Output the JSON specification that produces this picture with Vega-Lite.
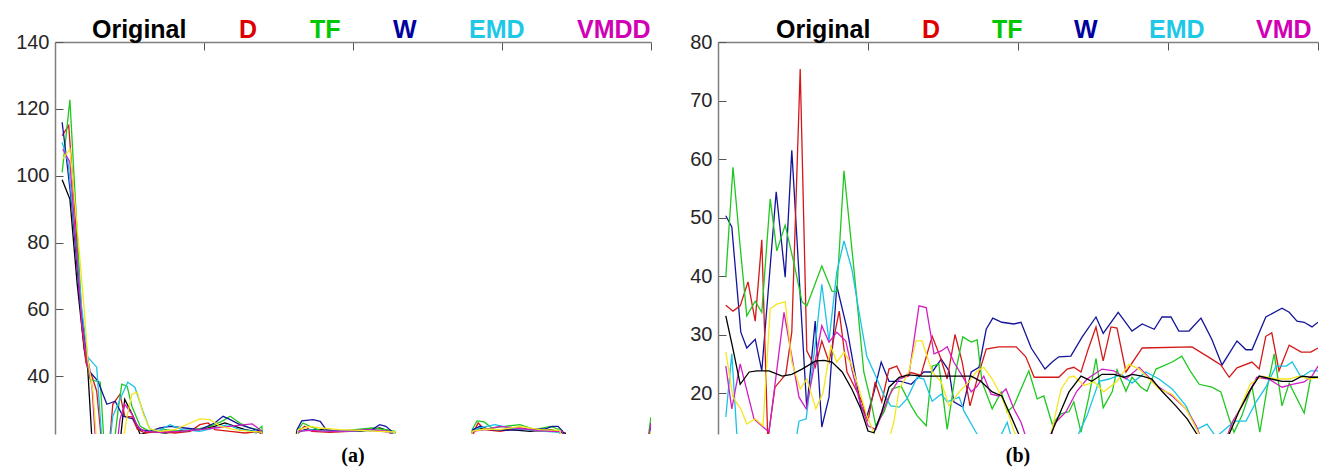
{
"$schema": "https://vega.github.io/schema/vega-lite/v6.json",
"background": "white",
"padding": {"left": 15, "top": 17, "right": 5, "bottom": 5},
"config": {"view": {"stroke": null}, "font": "Liberation Sans", "concat": {"spacing": 37}},
"datasets": {
"a": [
{"s":"Original","x":1.2,"v":98.8},{"s":"Original","x":2.5,"v":93},{"s":"Original","x":3.7,"v":68},{"s":"Original","x":4.9,"v":48},{"s":"Original","x":5.5,"v":42},{"s":"Original","x":6.4,"v":15},{"s":"Original","x":10.6,"v":15},{"s":"Original","x":11.7,"v":33.1},{"s":"Original","x":13.1,"v":28},{"s":"Original","x":14.3,"v":22.5},{"s":"Original","x":15.9,"v":23.5},{"s":"Original","x":18.5,"v":23},{"s":"Original","x":21,"v":23.6},{"s":"Original","x":24.3,"v":24},{"s":"Original","x":26.8,"v":25},{"s":"Original","x":28.5,"v":26},{"s":"Original","x":30.2,"v":25},{"s":"Original","x":31.9,"v":24},{"s":"Original","x":33.6,"v":23.5},{"s":"Original","x":34.7,"v":23},{"s":"Original","x":35.7,"v":15},{"s":"Original","x":39.4,"v":15},{"s":"Original","x":40.6,"v":23},{"s":"Original","x":41.9,"v":24},{"s":"Original","x":44.5,"v":24},{"s":"Original","x":47.8,"v":23.5},{"s":"Original","x":51.2,"v":23.5},{"s":"Original","x":54.5,"v":24.5},{"s":"Original","x":57,"v":23},{"s":"Original","x":57.9,"v":15},{"s":"Original","x":68.8,"v":15},{"s":"Original","x":70,"v":23},{"s":"Original","x":71.3,"v":24.5},{"s":"Original","x":73.8,"v":24},{"s":"Original","x":76.3,"v":24},{"s":"Original","x":79.7,"v":23.5},{"s":"Original","x":83.1,"v":24},{"s":"Original","x":85.6,"v":23},{"s":"Original","x":86.4,"v":15},{"s":"Original","x":99,"v":15},{"s":"Original","x":100,"v":26},
{"s":"D","x":1.2,"v":112},{"s":"D","x":2.3,"v":115},{"s":"D","x":3.4,"v":88},{"s":"D","x":4.5,"v":55},{"s":"D","x":5.2,"v":44},{"s":"D","x":6.2,"v":40},{"s":"D","x":7,"v":35.5},{"s":"D","x":8.1,"v":15},{"s":"D","x":8.9,"v":15},{"s":"D","x":9.7,"v":31.6},{"s":"D","x":10.9,"v":34.6},{"s":"D","x":11.7,"v":28},{"s":"D","x":12.9,"v":27.8},{"s":"D","x":13.8,"v":24.2},{"s":"D","x":15.1,"v":23},{"s":"D","x":17.6,"v":23.5},{"s":"D","x":20.1,"v":23},{"s":"D","x":22.7,"v":23.5},{"s":"D","x":24.3,"v":25.5},{"s":"D","x":25.7,"v":26},{"s":"D","x":26.8,"v":24},{"s":"D","x":29.4,"v":23.5},{"s":"D","x":31.9,"v":23},{"s":"D","x":34.4,"v":23.5},{"s":"D","x":35.4,"v":15},{"s":"D","x":39.9,"v":15},{"s":"D","x":40.8,"v":23.5},{"s":"D","x":41.9,"v":25},{"s":"D","x":43.1,"v":23.5},{"s":"D","x":46.1,"v":23.2},{"s":"D","x":49.5,"v":23.5},{"s":"D","x":52.9,"v":23.8},{"s":"D","x":56.2,"v":23.3},{"s":"D","x":57.2,"v":15},{"s":"D","x":69.3,"v":15},{"s":"D","x":70.3,"v":23.5},{"s":"D","x":71,"v":26},{"s":"D","x":72.1,"v":24},{"s":"D","x":74.7,"v":23.5},{"s":"D","x":78,"v":24.5},{"s":"D","x":81.4,"v":23.5},{"s":"D","x":84.7,"v":23.5},{"s":"D","x":85.7,"v":15},{"s":"D","x":99,"v":15},{"s":"D","x":100,"v":25},
{"s":"TF","x":1.2,"v":101},{"s":"TF","x":2.5,"v":122.7},{"s":"TF","x":3.5,"v":90},{"s":"TF","x":4.5,"v":58},{"s":"TF","x":5.2,"v":47},{"s":"TF","x":5.9,"v":39},{"s":"TF","x":7.6,"v":38.2},{"s":"TF","x":8.4,"v":15},{"s":"TF","x":9.6,"v":15},{"s":"TF","x":10.6,"v":30},{"s":"TF","x":11.2,"v":37.6},{"s":"TF","x":12.1,"v":37},{"s":"TF","x":12.9,"v":31},{"s":"TF","x":14.3,"v":25},{"s":"TF","x":15.9,"v":23.5},{"s":"TF","x":18.5,"v":24},{"s":"TF","x":21,"v":23.5},{"s":"TF","x":23.5,"v":24},{"s":"TF","x":26,"v":25},{"s":"TF","x":28,"v":26.5},{"s":"TF","x":29.4,"v":28},{"s":"TF","x":31,"v":26},{"s":"TF","x":32.7,"v":24.5},{"s":"TF","x":34.1,"v":24},{"s":"TF","x":34.7,"v":25},{"s":"TF","x":35.2,"v":15},{"s":"TF","x":39.9,"v":15},{"s":"TF","x":40.8,"v":24},{"s":"TF","x":41.6,"v":26},{"s":"TF","x":42.8,"v":25},{"s":"TF","x":44.5,"v":23.8},{"s":"TF","x":47,"v":23.5},{"s":"TF","x":50.3,"v":24},{"s":"TF","x":53.2,"v":24.5},{"s":"TF","x":55.4,"v":24},{"s":"TF","x":57,"v":23.5},{"s":"TF","x":57.9,"v":15},{"s":"TF","x":69.3,"v":15},{"s":"TF","x":70,"v":24},{"s":"TF","x":70.8,"v":26.6},{"s":"TF","x":72,"v":26.3},{"s":"TF","x":73.3,"v":24.5},{"s":"TF","x":75.5,"v":25},{"s":"TF","x":78,"v":25.5},{"s":"TF","x":80.5,"v":24},{"s":"TF","x":83.1,"v":25},{"s":"TF","x":84.7,"v":24},{"s":"TF","x":85.7,"v":15},{"s":"TF","x":99,"v":15},{"s":"TF","x":100,"v":27.8},
{"s":"W","x":1.2,"v":116},{"s":"W","x":1.8,"v":107},{"s":"W","x":2.9,"v":90},{"s":"W","x":4.2,"v":62},{"s":"W","x":5.2,"v":48},{"s":"W","x":5.9,"v":41.2},{"s":"W","x":7.2,"v":38.5},{"s":"W","x":8.7,"v":31.6},{"s":"W","x":10.1,"v":32.5},{"s":"W","x":11.4,"v":28},{"s":"W","x":13.1,"v":27.2},{"s":"W","x":14.3,"v":24},{"s":"W","x":15.9,"v":23.5},{"s":"W","x":17.6,"v":24.5},{"s":"W","x":19.3,"v":25},{"s":"W","x":21.8,"v":24.5},{"s":"W","x":24.3,"v":24},{"s":"W","x":26.8,"v":26},{"s":"W","x":28.2,"v":28},{"s":"W","x":29.4,"v":27},{"s":"W","x":31,"v":25.5},{"s":"W","x":33.6,"v":24},{"s":"W","x":34.7,"v":23.5},{"s":"W","x":35.4,"v":15},{"s":"W","x":39.9,"v":15},{"s":"W","x":40.6,"v":24},{"s":"W","x":41.4,"v":26.6},{"s":"W","x":43.3,"v":27},{"s":"W","x":44.5,"v":26.5},{"s":"W","x":45.5,"v":24},{"s":"W","x":47.8,"v":23.5},{"s":"W","x":51.2,"v":23.8},{"s":"W","x":53.2,"v":24},{"s":"W","x":54.5,"v":25.5},{"s":"W","x":55.5,"v":25},{"s":"W","x":56.5,"v":23.5},{"s":"W","x":57.2,"v":15},{"s":"W","x":69.3,"v":15},{"s":"W","x":70.1,"v":24},{"s":"W","x":71.3,"v":25},{"s":"W","x":73,"v":24},{"s":"W","x":75.5,"v":23.8},{"s":"W","x":78.9,"v":24},{"s":"W","x":82.2,"v":24.2},{"s":"W","x":83.4,"v":25},{"s":"W","x":84.4,"v":25},{"s":"W","x":85.2,"v":23.5},{"s":"W","x":85.7,"v":15},{"s":"W","x":99,"v":15},{"s":"W","x":100,"v":25},
{"s":"EMD","x":1.2,"v":110},{"s":"EMD","x":2.2,"v":104},{"s":"EMD","x":3.4,"v":82},{"s":"EMD","x":4.5,"v":60},{"s":"EMD","x":5.5,"v":45.7},{"s":"EMD","x":7,"v":42.7},{"s":"EMD","x":8.1,"v":15},{"s":"EMD","x":8.9,"v":15},{"s":"EMD","x":9.7,"v":28},{"s":"EMD","x":10.9,"v":33},{"s":"EMD","x":12.2,"v":38.2},{"s":"EMD","x":13.4,"v":36.7},{"s":"EMD","x":14.8,"v":29.2},{"s":"EMD","x":15.9,"v":24.2},{"s":"EMD","x":17.3,"v":23.5},{"s":"EMD","x":19.3,"v":25.5},{"s":"EMD","x":21.3,"v":24},{"s":"EMD","x":24.3,"v":23.5},{"s":"EMD","x":26.8,"v":24.5},{"s":"EMD","x":29,"v":25.5},{"s":"EMD","x":31,"v":24},{"s":"EMD","x":33.6,"v":23.5},{"s":"EMD","x":35.1,"v":15},{"s":"EMD","x":39.9,"v":15},{"s":"EMD","x":40.8,"v":23.5},{"s":"EMD","x":42.8,"v":24},{"s":"EMD","x":46.1,"v":23.5},{"s":"EMD","x":49.5,"v":23.6},{"s":"EMD","x":53.7,"v":23.8},{"s":"EMD","x":57,"v":23.2},{"s":"EMD","x":57.6,"v":15},{"s":"EMD","x":69.3,"v":15},{"s":"EMD","x":70.1,"v":23.5},{"s":"EMD","x":71.3,"v":24.5},{"s":"EMD","x":73.8,"v":25.5},{"s":"EMD","x":76.3,"v":24.5},{"s":"EMD","x":78.9,"v":24},{"s":"EMD","x":82.2,"v":23.5},{"s":"EMD","x":84.7,"v":23.2},{"s":"EMD","x":85.7,"v":15},{"s":"EMD","x":99,"v":15},{"s":"EMD","x":100,"v":24},
{"s":"VMDD","x":1.3,"v":108},{"s":"VMDD","x":2.5,"v":104},{"s":"VMDD","x":3.5,"v":80},{"s":"VMDD","x":4.5,"v":56},{"s":"VMDD","x":5.4,"v":44},{"s":"VMDD","x":6.2,"v":37},{"s":"VMDD","x":7,"v":15},{"s":"VMDD","x":10.1,"v":15},{"s":"VMDD","x":10.9,"v":27},{"s":"VMDD","x":11.7,"v":31.6},{"s":"VMDD","x":12.9,"v":28.7},{"s":"VMDD","x":13.9,"v":24.8},{"s":"VMDD","x":15.1,"v":23.5},{"s":"VMDD","x":17.6,"v":23.2},{"s":"VMDD","x":21,"v":23.5},{"s":"VMDD","x":24.3,"v":24},{"s":"VMDD","x":26.8,"v":24.5},{"s":"VMDD","x":29.4,"v":25},{"s":"VMDD","x":31.9,"v":25.5},{"s":"VMDD","x":33.1,"v":25.7},{"s":"VMDD","x":34.4,"v":24},{"s":"VMDD","x":35.2,"v":15},{"s":"VMDD","x":39.9,"v":15},{"s":"VMDD","x":40.8,"v":23.5},{"s":"VMDD","x":42.8,"v":23.8},{"s":"VMDD","x":46.1,"v":23.5},{"s":"VMDD","x":49.5,"v":23.6},{"s":"VMDD","x":52.9,"v":24},{"s":"VMDD","x":56.2,"v":23.5},{"s":"VMDD","x":57.2,"v":15},{"s":"VMDD","x":69.3,"v":15},{"s":"VMDD","x":70.1,"v":23.5},{"s":"VMDD","x":72.1,"v":24},{"s":"VMDD","x":74.7,"v":25},{"s":"VMDD","x":77.2,"v":24.5},{"s":"VMDD","x":79.7,"v":24},{"s":"VMDD","x":83.1,"v":23.5},{"s":"VMDD","x":85.1,"v":23.4},{"s":"VMDD","x":85.7,"v":15},{"s":"VMDD","x":99,"v":15},{"s":"VMDD","x":100,"v":26},
{"s":"Y","x":1.3,"v":105},{"s":"Y","x":2.5,"v":108},{"s":"Y","x":3.7,"v":85},{"s":"Y","x":4.9,"v":60},{"s":"Y","x":5.5,"v":45},{"s":"Y","x":6.4,"v":35},{"s":"Y","x":7.2,"v":15},{"s":"Y","x":10.9,"v":15},{"s":"Y","x":12.1,"v":28},{"s":"Y","x":12.9,"v":34.6},{"s":"Y","x":13.8,"v":35.2},{"s":"Y","x":14.8,"v":28.7},{"s":"Y","x":15.9,"v":24.2},{"s":"Y","x":17.6,"v":23.5},{"s":"Y","x":20.1,"v":24},{"s":"Y","x":22.7,"v":26},{"s":"Y","x":24.3,"v":27.2},{"s":"Y","x":26,"v":27},{"s":"Y","x":27.7,"v":25},{"s":"Y","x":30.2,"v":24},{"s":"Y","x":32.7,"v":23.5},{"s":"Y","x":34.7,"v":23.3},{"s":"Y","x":35.4,"v":15},{"s":"Y","x":39.9,"v":15},{"s":"Y","x":40.8,"v":24},{"s":"Y","x":42.8,"v":25},{"s":"Y","x":44.5,"v":24.5},{"s":"Y","x":47.8,"v":24},{"s":"Y","x":51.2,"v":23.8},{"s":"Y","x":54.5,"v":23.5},{"s":"Y","x":57,"v":23.3},{"s":"Y","x":57.6,"v":15},{"s":"Y","x":69.3,"v":15},{"s":"Y","x":70,"v":23.5},{"s":"Y","x":72.1,"v":24.2},{"s":"Y","x":74.7,"v":24},{"s":"Y","x":78,"v":25},{"s":"Y","x":81.4,"v":24},{"s":"Y","x":84.7,"v":23.8},{"s":"Y","x":85.7,"v":15},{"s":"Y","x":99,"v":15},{"s":"Y","x":100,"v":23.5}
],
"b": [
{"s":"W","x":1.3,"v":50.3},{"s":"W","x":2.3,"v":48.4},{"s":"W","x":3.8,"v":30.4},{"s":"W","x":4.8,"v":27.7},{"s":"W","x":6.2,"v":29.2},{"s":"W","x":7.3,"v":23.8},{"s":"W","x":9.7,"v":54.4},{"s":"W","x":11.2,"v":39.8},{"s":"W","x":12.3,"v":61.5},{"s":"W","x":14.8,"v":17.3},{"s":"W","x":16.2,"v":32.3},{"s":"W","x":17.3,"v":14.2},{"s":"W","x":18.5,"v":19.3},{"s":"W","x":19.8,"v":38.3},{"s":"W","x":21.5,"v":31},{"s":"W","x":23.8,"v":17.8},{"s":"W","x":24.8,"v":15.9},{"s":"W","x":26,"v":20.2},{"s":"W","x":27.2,"v":25.3},{"s":"W","x":28.5,"v":22},{"s":"W","x":30.5,"v":22},{"s":"W","x":32.2,"v":21.5},{"s":"W","x":34.3,"v":23.6},{"s":"W","x":35.7,"v":23.6},{"s":"W","x":37.2,"v":25.8},{"s":"W","x":38.5,"v":23.8},{"s":"W","x":39.3,"v":18.5},{"s":"W","x":40.8,"v":17.6},{"s":"W","x":42.2,"v":23.6},{"s":"W","x":43.5,"v":24.4},{"s":"W","x":44.7,"v":30.9},{"s":"W","x":45.8,"v":32.8},{"s":"W","x":47.3,"v":32.1},{"s":"W","x":49.3,"v":31.8},{"s":"W","x":50.5,"v":32.1},{"s":"W","x":52.2,"v":27.7},{"s":"W","x":54.5,"v":24.1},{"s":"W","x":55.7,"v":25.3},{"s":"W","x":56.8,"v":26.2},{"s":"W","x":58.8,"v":26.3},{"s":"W","x":60.7,"v":29.6},{"s":"W","x":63,"v":33},{"s":"W","x":64.2,"v":30.2},{"s":"W","x":66.7,"v":33.8},{"s":"W","x":69,"v":30.6},{"s":"W","x":70.7,"v":31.8},{"s":"W","x":72.7,"v":30.9},{"s":"W","x":74,"v":33},{"s":"W","x":75.5,"v":33},{"s":"W","x":76.8,"v":30.6},{"s":"W","x":78.5,"v":30.6},{"s":"W","x":80.5,"v":32.8},{"s":"W","x":82.3,"v":29.2},{"s":"W","x":84,"v":24.8},{"s":"W","x":86.5,"v":28.9},{"s":"W","x":88,"v":27.4},{"s":"W","x":89,"v":27.4},{"s":"W","x":91.3,"v":33},{"s":"W","x":94,"v":34.5},{"s":"W","x":95.2,"v":33.8},{"s":"W","x":96.5,"v":32.3},{"s":"W","x":97.7,"v":32.1},{"s":"W","x":99,"v":31.3},{"s":"W","x":100,"v":32.1},
{"s":"D","x":1.3,"v":35},{"s":"D","x":2.5,"v":34},{"s":"D","x":3.7,"v":34.9},{"s":"D","x":5,"v":39},{"s":"D","x":6.2,"v":32.3},{"s":"D","x":7.3,"v":46.2},{"s":"D","x":8.3,"v":12},{"s":"D","x":9.5,"v":21},{"s":"D","x":11.3,"v":23.2},{"s":"D","x":12.3,"v":30.4},{"s":"D","x":13.7,"v":75.4},{"s":"D","x":14.8,"v":27.2},{"s":"D","x":16.2,"v":24.4},{"s":"D","x":17.3,"v":28.9},{"s":"D","x":18.5,"v":25.3},{"s":"D","x":20.2,"v":34},{"s":"D","x":21.5,"v":23.6},{"s":"D","x":23.8,"v":19},{"s":"D","x":25,"v":15.2},{"s":"D","x":26.2,"v":21.9},{"s":"D","x":27.3,"v":18.5},{"s":"D","x":28.5,"v":24.1},{"s":"D","x":29.8,"v":24.6},{"s":"D","x":30.7,"v":22.7},{"s":"D","x":32.2,"v":23.5},{"s":"D","x":33.8,"v":23},{"s":"D","x":35.7,"v":29.7},{"s":"D","x":37,"v":26.3},{"s":"D","x":38.2,"v":22.4},{"s":"D","x":39.5,"v":30},{"s":"D","x":40.7,"v":25.3},{"s":"D","x":42,"v":17.8},{"s":"D","x":43.2,"v":22.4},{"s":"D","x":44.7,"v":27.5},{"s":"D","x":46.8,"v":27.9},{"s":"D","x":49.7,"v":27.9},{"s":"D","x":51.3,"v":26.2},{"s":"D","x":52.7,"v":22.7},{"s":"D","x":56.8,"v":22.7},{"s":"D","x":58.2,"v":24.1},{"s":"D","x":59.3,"v":24.4},{"s":"D","x":60.5,"v":23.6},{"s":"D","x":61.7,"v":27.5},{"s":"D","x":63,"v":31.3},{"s":"D","x":64.2,"v":25.5},{"s":"D","x":65.5,"v":31.3},{"s":"D","x":66.5,"v":31.1},{"s":"D","x":68,"v":23.6},{"s":"D","x":70.7,"v":27.7},{"s":"D","x":79,"v":27.9},{"s":"D","x":82.3,"v":25.8},{"s":"D","x":83.8,"v":24.8},{"s":"D","x":85.2,"v":22.7},{"s":"D","x":86.5,"v":24.3},{"s":"D","x":89,"v":25.3},{"s":"D","x":90.2,"v":24.1},{"s":"D","x":91.3,"v":29.7},{"s":"D","x":92.3,"v":30.3},{"s":"D","x":93.5,"v":23.8},{"s":"D","x":95.2,"v":28.2},{"s":"D","x":97.2,"v":27},{"s":"D","x":98.8,"v":27},{"s":"D","x":100,"v":27.7},
{"s":"TF","x":1.3,"v":39.8},{"s":"TF","x":2.5,"v":58.6},{"s":"TF","x":3.7,"v":45},{"s":"TF","x":4.8,"v":33.2},{"s":"TF","x":6.2,"v":35.7},{"s":"TF","x":7.3,"v":33.8},{"s":"TF","x":8.7,"v":53.2},{"s":"TF","x":9.8,"v":44.3},{"s":"TF","x":11.2,"v":48.7},{"s":"TF","x":12.7,"v":42},{"s":"TF","x":14,"v":35.6},{"s":"TF","x":14.8,"v":34.9},{"s":"TF","x":17.3,"v":41.7},{"s":"TF","x":19,"v":37.4},{"s":"TF","x":19.8,"v":37.3},{"s":"TF","x":21,"v":58},{"s":"TF","x":22.7,"v":40.7},{"s":"TF","x":24.3,"v":23.6},{"s":"TF","x":25.5,"v":18.5},{"s":"TF","x":26.3,"v":14.4},{"s":"TF","x":27.7,"v":16.8},{"s":"TF","x":29,"v":20.7},{"s":"TF","x":30.5,"v":21.2},{"s":"TF","x":32.2,"v":17.8},{"s":"TF","x":33.2,"v":16.1},{"s":"TF","x":34.7,"v":14.4},{"s":"TF","x":35.7,"v":24.6},{"s":"TF","x":36.8,"v":25},{"s":"TF","x":38.2,"v":13.8},{"s":"TF","x":39.7,"v":24.1},{"s":"TF","x":40.8,"v":29.6},{"s":"TF","x":42.2,"v":28.7},{"s":"TF","x":43.2,"v":29.1},{"s":"TF","x":44,"v":21.9},{"s":"TF","x":45.7,"v":17.3},{"s":"TF","x":47.2,"v":20.2},{"s":"TF","x":48.2,"v":16.8},{"s":"TF","x":49.3,"v":17.8},{"s":"TF","x":51.8,"v":23.8},{"s":"TF","x":53.2,"v":19},{"s":"TF","x":54.3,"v":19.5},{"s":"TF","x":55.7,"v":14.7},{"s":"TF","x":57.2,"v":16.5},{"s":"TF","x":58.5,"v":16.8},{"s":"TF","x":59.3,"v":18.5},{"s":"TF","x":60.5,"v":13.3},{"s":"TF","x":61.8,"v":19.3},{"s":"TF","x":63,"v":25.9},{"s":"TF","x":64.2,"v":17.5},{"s":"TF","x":65.7,"v":20.2},{"s":"TF","x":66.5,"v":24},{"s":"TF","x":68,"v":20.3},{"s":"TF","x":69,"v":22.7},{"s":"TF","x":70.5,"v":21},{"s":"TF","x":71.5,"v":20.3},{"s":"TF","x":73,"v":24.1},{"s":"TF","x":75.7,"v":25.3},{"s":"TF","x":77.3,"v":26.3},{"s":"TF","x":78.8,"v":23.6},{"s":"TF","x":80.2,"v":21.5},{"s":"TF","x":82.3,"v":21},{"s":"TF","x":83.8,"v":20.2},{"s":"TF","x":85.2,"v":15.6},{"s":"TF","x":86,"v":13.3},{"s":"TF","x":87.3,"v":16.1},{"s":"TF","x":89,"v":21.2},{"s":"TF","x":90.3,"v":13.3},{"s":"TF","x":91.5,"v":20.7},{"s":"TF","x":92.7,"v":26.7},{"s":"TF","x":94,"v":17.8},{"s":"TF","x":95.2,"v":21.7},{"s":"TF","x":97.7,"v":16.6},{"s":"TF","x":98.8,"v":22.7},{"s":"TF","x":100,"v":22.7},
{"s":"EMD","x":1.3,"v":15.9},{"s":"EMD","x":2.3,"v":26.7},{"s":"EMD","x":3.2,"v":12},{"s":"EMD","x":4.3,"v":10},{"s":"EMD","x":12.7,"v":10},{"s":"EMD","x":13.5,"v":15.2},{"s":"EMD","x":14.7,"v":15.6},{"s":"EMD","x":16.3,"v":29.2},{"s":"EMD","x":17.3,"v":38.6},{"s":"EMD","x":18.5,"v":28.9},{"s":"EMD","x":19.8,"v":40.7},{"s":"EMD","x":21,"v":46},{"s":"EMD","x":22.3,"v":41.2},{"s":"EMD","x":23.8,"v":32.1},{"s":"EMD","x":24.8,"v":26.3},{"s":"EMD","x":26.5,"v":22.4},{"s":"EMD","x":27.7,"v":19.5},{"s":"EMD","x":28.8,"v":17.8},{"s":"EMD","x":30.2,"v":17.6},{"s":"EMD","x":31.5,"v":19},{"s":"EMD","x":33.2,"v":22.7},{"s":"EMD","x":34.3,"v":22.4},{"s":"EMD","x":35.7,"v":18.6},{"s":"EMD","x":37.2,"v":19.8},{"s":"EMD","x":38.2,"v":18.5},{"s":"EMD","x":40.2,"v":19.3},{"s":"EMD","x":41,"v":16.9},{"s":"EMD","x":43,"v":13.3},{"s":"EMD","x":44.3,"v":11},{"s":"EMD","x":46.8,"v":12},{"s":"EMD","x":48.2,"v":15},{"s":"EMD","x":49.3,"v":11},{"s":"EMD","x":59.3,"v":11},{"s":"EMD","x":60.2,"v":13.3},{"s":"EMD","x":61.5,"v":16.1},{"s":"EMD","x":63.5,"v":22},{"s":"EMD","x":65.2,"v":22.4},{"s":"EMD","x":67.2,"v":23.2},{"s":"EMD","x":69,"v":21.7},{"s":"EMD","x":71.3,"v":23.6},{"s":"EMD","x":73.5,"v":22.4},{"s":"EMD","x":75.7,"v":20.7},{"s":"EMD","x":78,"v":17.8},{"s":"EMD","x":79.8,"v":13.8},{"s":"EMD","x":81.5,"v":14.7},{"s":"EMD","x":83,"v":12.5},{"s":"EMD","x":85.2,"v":14.4},{"s":"EMD","x":86.3,"v":15.2},{"s":"EMD","x":88,"v":15.2},{"s":"EMD","x":89.7,"v":18.5},{"s":"EMD","x":91.3,"v":21},{"s":"EMD","x":93,"v":24.6},{"s":"EMD","x":94.7,"v":24.6},{"s":"EMD","x":95.7,"v":25.3},{"s":"EMD","x":97.2,"v":22.7},{"s":"EMD","x":98.8,"v":23.8},{"s":"EMD","x":100,"v":23.8},
{"s":"VMD","x":1.3,"v":24.6},{"s":"VMD","x":2.3,"v":17.3},{"s":"VMD","x":3.7,"v":25},{"s":"VMD","x":6,"v":15.6},{"s":"VMD","x":8.5,"v":13.3},{"s":"VMD","x":11,"v":33.8},{"s":"VMD","x":13.5,"v":19.3},{"s":"VMD","x":14.7,"v":17.3},{"s":"VMD","x":17.3,"v":31.5},{"s":"VMD","x":18.5,"v":28.7},{"s":"VMD","x":19.8,"v":30.4},{"s":"VMD","x":21.3,"v":28.9},{"s":"VMD","x":22.3,"v":24.1},{"s":"VMD","x":23.5,"v":19},{"s":"VMD","x":25,"v":14.4},{"s":"VMD","x":26.3,"v":13.8},{"s":"VMD","x":28.5,"v":19.5},{"s":"VMD","x":30.2,"v":22.4},{"s":"VMD","x":31.8,"v":22.9},{"s":"VMD","x":33.5,"v":34.9},{"s":"VMD","x":34.7,"v":34.6},{"s":"VMD","x":36,"v":26.7},{"s":"VMD","x":37.2,"v":27.2},{"s":"VMD","x":38.2,"v":27.9},{"s":"VMD","x":39.3,"v":25.3},{"s":"VMD","x":41,"v":22.4},{"s":"VMD","x":42.2,"v":20.2},{"s":"VMD","x":43.2,"v":21.2},{"s":"VMD","x":44.3,"v":22.9},{"s":"VMD","x":45.5,"v":19.8},{"s":"VMD","x":46.8,"v":19.5},{"s":"VMD","x":48,"v":20.7},{"s":"VMD","x":49.3,"v":17.3},{"s":"VMD","x":50.5,"v":15},{"s":"VMD","x":51.8,"v":11},{"s":"VMD","x":55.2,"v":11},{"s":"VMD","x":56,"v":14.7},{"s":"VMD","x":58,"v":16.8},{"s":"VMD","x":59.8,"v":20.3},{"s":"VMD","x":61.5,"v":22.4},{"s":"VMD","x":64,"v":24.1},{"s":"VMD","x":66,"v":23.8},{"s":"VMD","x":68,"v":22.4},{"s":"VMD","x":70.2,"v":24.4},{"s":"VMD","x":73.2,"v":21.2},{"s":"VMD","x":75.7,"v":19.5},{"s":"VMD","x":78,"v":17.3},{"s":"VMD","x":79.7,"v":14.4},{"s":"VMD","x":81,"v":11},{"s":"VMD","x":84.3,"v":11},{"s":"VMD","x":85.7,"v":15},{"s":"VMD","x":88,"v":19},{"s":"VMD","x":89.8,"v":22.7},{"s":"VMD","x":91.8,"v":22.4},{"s":"VMD","x":94,"v":21},{"s":"VMD","x":95.7,"v":21.5},{"s":"VMD","x":97.7,"v":21.9},{"s":"VMD","x":99,"v":22.9},{"s":"VMD","x":100,"v":24.6},
{"s":"Y","x":1.3,"v":27},{"s":"Y","x":2.5,"v":19.3},{"s":"Y","x":3.8,"v":17.3},{"s":"Y","x":4.8,"v":14.7},{"s":"Y","x":6.2,"v":15.6},{"s":"Y","x":7.5,"v":14.4},{"s":"Y","x":8.7,"v":34.4},{"s":"Y","x":9.8,"v":35.2},{"s":"Y","x":11.2,"v":35.6},{"s":"Y","x":12.3,"v":25.3},{"s":"Y","x":13.7,"v":20.7},{"s":"Y","x":14.8,"v":22.4},{"s":"Y","x":16.3,"v":17.3},{"s":"Y","x":17.5,"v":20},{"s":"Y","x":18.8,"v":28},{"s":"Y","x":19.8,"v":25.3},{"s":"Y","x":21,"v":27},{"s":"Y","x":22.2,"v":25},{"s":"Y","x":23.5,"v":20.7},{"s":"Y","x":24.8,"v":16.1},{"s":"Y","x":26.3,"v":12.5},{"s":"Y","x":28.2,"v":11},{"s":"Y","x":29.3,"v":15},{"s":"Y","x":30.2,"v":20.7},{"s":"Y","x":31.8,"v":23.6},{"s":"Y","x":33,"v":28.9},{"s":"Y","x":34,"v":28.9},{"s":"Y","x":35.7,"v":23.6},{"s":"Y","x":37.2,"v":21.9},{"s":"Y","x":38.5,"v":17.8},{"s":"Y","x":40.2,"v":20.2},{"s":"Y","x":41.8,"v":21.9},{"s":"Y","x":43.2,"v":23.8},{"s":"Y","x":44.3,"v":24.4},{"s":"Y","x":45.7,"v":22.4},{"s":"Y","x":47.2,"v":19.5},{"s":"Y","x":48.5,"v":16.1},{"s":"Y","x":49.3,"v":13.5},{"s":"Y","x":51,"v":11},{"s":"Y","x":54.3,"v":11},{"s":"Y","x":55.5,"v":13},{"s":"Y","x":57.2,"v":20.7},{"s":"Y","x":58.5,"v":22.7},{"s":"Y","x":59.3,"v":22.9},{"s":"Y","x":61,"v":21.3},{"s":"Y","x":62.7,"v":21.9},{"s":"Y","x":64.3,"v":20.2},{"s":"Y","x":66.5,"v":22},{"s":"Y","x":68.5,"v":24.9},{"s":"Y","x":70.2,"v":24.1},{"s":"Y","x":73.5,"v":20.7},{"s":"Y","x":75.7,"v":19.8},{"s":"Y","x":78,"v":17.3},{"s":"Y","x":79.8,"v":13.8},{"s":"Y","x":81,"v":11},{"s":"Y","x":84.3,"v":11},{"s":"Y","x":85.2,"v":13},{"s":"Y","x":86.8,"v":16.9},{"s":"Y","x":88.7,"v":21.5},{"s":"Y","x":90.7,"v":22.9},{"s":"Y","x":93,"v":22.4},{"s":"Y","x":95.2,"v":22.4},{"s":"Y","x":96.8,"v":22.9},{"s":"Y","x":98.5,"v":22.4},{"s":"Y","x":100,"v":22.6},
{"s":"Original","x":1.3,"v":33.2},{"s":"Original","x":2.5,"v":27.5},{"s":"Original","x":3.7,"v":21.5},{"s":"Original","x":5.2,"v":23.6},{"s":"Original","x":6.5,"v":23.8},{"s":"Original","x":8.5,"v":23.8},{"s":"Original","x":10.7,"v":22.9},{"s":"Original","x":12.3,"v":23.2},{"s":"Original","x":14,"v":24.1},{"s":"Original","x":16.3,"v":25.5},{"s":"Original","x":17.7,"v":25.6},{"s":"Original","x":19,"v":25.3},{"s":"Original","x":20.7,"v":23.6},{"s":"Original","x":22.3,"v":20.7},{"s":"Original","x":23.8,"v":17.3},{"s":"Original","x":25,"v":13.5},{"s":"Original","x":26,"v":13.2},{"s":"Original","x":27.3,"v":16.8},{"s":"Original","x":28.5,"v":21},{"s":"Original","x":30.2,"v":22.7},{"s":"Original","x":31.8,"v":23.1},{"s":"Original","x":34,"v":22.9},{"s":"Original","x":36.3,"v":22.9},{"s":"Original","x":39.7,"v":22.9},{"s":"Original","x":42.2,"v":22.9},{"s":"Original","x":43.8,"v":22},{"s":"Original","x":45.7,"v":20.2},{"s":"Original","x":47.3,"v":19.5},{"s":"Original","x":48.8,"v":16.1},{"s":"Original","x":50.2,"v":12.8},{"s":"Original","x":51.8,"v":11},{"s":"Original","x":54.3,"v":11},{"s":"Original","x":55.5,"v":13},{"s":"Original","x":56.8,"v":16.1},{"s":"Original","x":58.5,"v":20.2},{"s":"Original","x":60.5,"v":22.9},{"s":"Original","x":62.3,"v":22},{"s":"Original","x":64,"v":23.2},{"s":"Original","x":66,"v":23.2},{"s":"Original","x":67.7,"v":22.7},{"s":"Original","x":69,"v":23.2},{"s":"Original","x":70.7,"v":22.9},{"s":"Original","x":72.3,"v":22.4},{"s":"Original","x":74,"v":20.3},{"s":"Original","x":76.3,"v":17.8},{"s":"Original","x":78.2,"v":15.6},{"s":"Original","x":79.8,"v":13},{"s":"Original","x":81.8,"v":11},{"s":"Original","x":83.8,"v":11},{"s":"Original","x":85.2,"v":13},{"s":"Original","x":86.8,"v":16.8},{"s":"Original","x":88.5,"v":20.2},{"s":"Original","x":90.2,"v":22.9},{"s":"Original","x":92.2,"v":22.4},{"s":"Original","x":94,"v":22},{"s":"Original","x":95.7,"v":22},{"s":"Original","x":97.3,"v":22.9},{"s":"Original","x":98.8,"v":22.7},{"s":"Original","x":100,"v":22.7}
]
},
"hconcat": [
{
"width": 596, "height": 392,
"data": {"name": "a"},
"title": {"text": "(a)", "orient": "bottom", "anchor": "middle", "font": "Liberation Serif", "fontSize": 20, "fontWeight": "bold", "color": "#000000", "offset": 12},
"mark": {"type": "line", "clip": true, "strokeWidth": 1.3},
"encoding": {
"x": {"field": "x", "type": "quantitative", "scale": {"domain": [0, 100], "nice": false, "zero": false}, "axis": {"orient": "top", "values": [0, 25, 50, 75, 100], "labels": false, "title": null, "grid": false, "tickSize": -8, "tickColor": "#555555", "domainColor": "#7f7f7f", "domainWidth": 1.5}},
"y": {"field": "v", "type": "quantitative", "scale": {"domain": [22.7, 140], "nice": false, "zero": false}, "axis": {"values": [40, 60, 80, 100, 120, 140], "title": null, "grid": false, "tickSize": -8, "tickColor": "#555555", "labelPadding": 14, "labelFontSize": 20, "labelFont": "Liberation Sans", "labelColor": "#262626", "domainColor": "#7f7f7f", "domainWidth": 1.5}},
"color": {"field": "s", "type": "nominal", "scale": {"domain": ["Original", "D", "TF", "W", "EMD", "VMDD", "Y"], "range": ["#000000", "#d41818", "#1ec81e", "#14149b", "#19c3e6", "#d21ec3", "#f5e61e"]},
"legend": {"orient": "none", "legendX": 12, "legendY": -25, "direction": "horizontal", "title": null, "values": ["Original", "D", "TF", "W", "EMD", "VMDD"], "symbolSize": 0, "symbolOpacity": 0, "symbolStrokeWidth": 0, "labelOffset": 0, "labelFontSize": 25, "labelFontWeight": "bold", "labelFont": "Liberation Sans", "labelLimit": 0, "columnPadding": 27, "labelColor": {"expr": "datum.value === 'D' ? '#dd0000' : datum.value === 'TF' ? '#00c800' : datum.value === 'W' ? '#0000a0' : datum.value === 'EMD' ? '#1ec8e6' : datum.value === 'VMDD' ? '#d200b4' : '#000000'"}}}
}
},
{
"width": 600, "height": 392,
"data": {"name": "b"},
"title": {"text": "(b)", "orient": "bottom", "anchor": "middle", "font": "Liberation Serif", "fontSize": 20, "fontWeight": "bold", "color": "#000000", "offset": 12},
"mark": {"type": "line", "clip": true, "strokeWidth": 1.3},
"encoding": {
"x": {"field": "x", "type": "quantitative", "scale": {"domain": [0, 100], "nice": false, "zero": false}, "axis": {"orient": "top", "values": [0, 25, 50, 75, 100], "labels": false, "title": null, "grid": false, "tickSize": -8, "tickColor": "#555555", "domainColor": "#7f7f7f", "domainWidth": 1.5}},
"y": {"field": "v", "type": "quantitative", "scale": {"domain": [13, 80], "nice": false, "zero": false}, "axis": {"values": [20, 30, 40, 50, 60, 70, 80], "title": null, "grid": false, "tickSize": -8, "tickColor": "#555555", "labelPadding": 14, "labelFontSize": 20, "labelFont": "Liberation Sans", "labelColor": "#262626", "domainColor": "#7f7f7f", "domainWidth": 1.5}},
"color": {"field": "s", "type": "nominal", "scale": {"domain": ["Original", "D", "TF", "W", "EMD", "VMD", "Y"], "range": ["#000000", "#d41818", "#1ec81e", "#14149b", "#19c3e6", "#d21ec3", "#f5e61e"]},
"legend": {"orient": "none", "legendX": 33, "legendY": -25, "direction": "horizontal", "title": null, "values": ["Original", "D", "TF", "W", "EMD", "VMD"], "symbolSize": 0, "symbolOpacity": 0, "symbolStrokeWidth": 0, "labelOffset": 0, "labelFontSize": 25, "labelFontWeight": "bold", "labelFont": "Liberation Sans", "labelLimit": 0, "columnPadding": 26, "labelColor": {"expr": "datum.value === 'D' ? '#dd0000' : datum.value === 'TF' ? '#00c800' : datum.value === 'W' ? '#0000a0' : datum.value === 'EMD' ? '#1ec8e6' : datum.value === 'VMD' ? '#d200b4' : '#000000'"}}}
}
}
],
"resolve": {"scale": {"color": "independent"}, "legend": {"color": "independent"}}
}
